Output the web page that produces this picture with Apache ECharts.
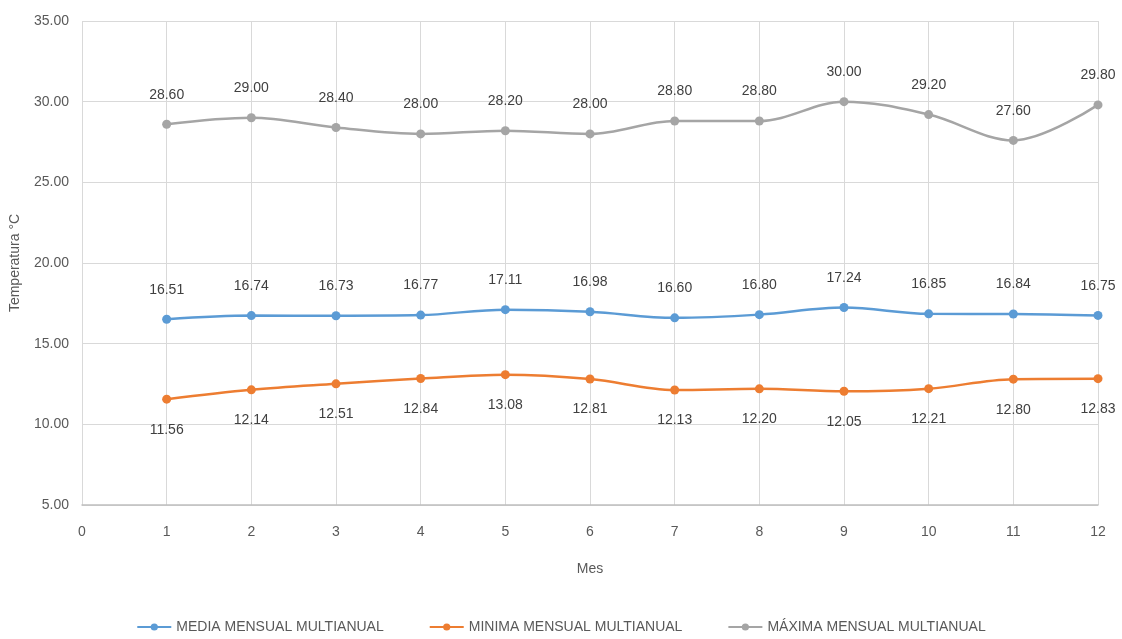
<!DOCTYPE html>
<html>
<head>
<meta charset="utf-8">
<script src="https://cdn.jsdelivr.net/npm/echarts@6/dist/echarts.min.js"></script>
<style>
  html, body { margin: 0; padding: 0; background: #ffffff; }
  #chart { width: 1122px; height: 639px; }
</style>
</head>
<body>
<div id="chart"></div>
<script>
// Monthly temperature series (°C) by month number
const months = [1, 2, 3, 4, 5, 6, 7, 8, 9, 10, 11, 12];
const media = [16.51, 16.74, 16.73, 16.77, 17.11, 16.98, 16.60, 16.80, 17.24, 16.85, 16.84, 16.75];
const minima = [11.56, 12.14, 12.51, 12.84, 13.08, 12.81, 12.13, 12.20, 12.05, 12.21, 12.80, 12.83];
const maxima = [28.60, 29.00, 28.40, 28.00, 28.20, 28.00, 28.80, 28.80, 30.00, 29.20, 27.60, 29.80];
const seriesNames = ['MEDIA MENSUAL MULTIANUAL', 'MINIMA MENSUAL MULTIANUAL', 'MÁXIMA MENSUAL MULTIANUAL'];

const FONT = '"Liberation Sans", Arial, sans-serif';
const TXT = '#595959';

function pairs(values) {
  return months.map((m, i) => [m, values[i]]);
}

function lineSeries(name, values, color, labelPos, labelDist) {
  return {
    name: name,
    type: 'line',
    data: pairs(values),
    smooth: 0.35,
    symbol: 'circle',
    symbolSize: 9,
    lineStyle: { color: color, width: 2.5 },
    itemStyle: { color: color },
    label: {
      show: true,
      position: labelPos,
      distance: labelDist,
      color: '#404040',
      fontFamily: FONT,
      fontSize: 14,
      formatter: p => p.value[1].toFixed(2)
    }
  };
}

const chart = echarts.init(document.getElementById('chart'), null, { renderer: 'canvas' });
chart.setOption({
  animation: false,
  backgroundColor: '#ffffff',
  grid: { left: 78, right: 24, top: 21, bottom: 134 },
  xAxis: {
    type: 'value',
    min: 0,
    max: 12,
    interval: 1,
    name: 'Mes',
    nameLocation: 'middle',
    nameGap: 57,
    nameTextStyle: { color: TXT, fontFamily: FONT, fontSize: 14 },
    axisLine: { show: true, lineStyle: { color: '#bfbfbf', width: 1.5 } },
    axisTick: { show: false },
    axisLabel: { color: TXT, fontFamily: FONT, fontSize: 14, margin: 20 },
    splitLine: { show: true, lineStyle: { color: '#d9d9d9', width: 1 } }
  },
  yAxis: {
    type: 'value',
    min: 5,
    max: 35,
    interval: 5,
    name: 'Temperatura °C',
    nameLocation: 'middle',
    nameGap: 60,
    nameRotate: 90,
    nameTextStyle: { color: TXT, fontFamily: FONT, fontSize: 14 },
    axisLine: { show: false },
    axisTick: { show: false },
    axisLabel: {
      color: TXT, fontFamily: FONT, fontSize: 14, margin: 13,
      formatter: v => v.toFixed(2)
    },
    splitLine: { show: true, lineStyle: { color: '#d9d9d9', width: 1 } }
  },
  legend: {
    bottom: 0,
    left: 'center',
    itemGap: 45,
    itemWidth: 34,
    itemHeight: 9,
    textStyle: { color: TXT, fontFamily: FONT, fontSize: 14 },
    data: seriesNames
  },
  series: [
    lineSeries(seriesNames[0], media, '#5B9BD5', 'top', 18),
    lineSeries(seriesNames[1], minima, '#ED7D31', 'bottom', 19),
    lineSeries(seriesNames[2], maxima, '#A5A5A5', 'top', 18)
  ]
});
</script>
</body>
</html>
